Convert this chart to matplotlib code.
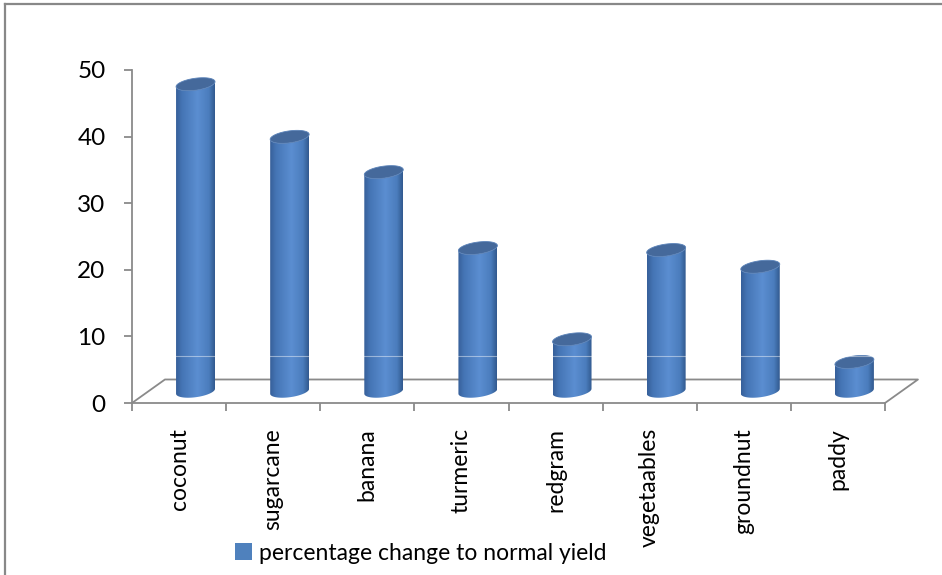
import numpy as np
import matplotlib
matplotlib.use('Agg')
import matplotlib.pyplot as plt
from matplotlib.patches import Polygon, Patch
from matplotlib.colors import LinearSegmentedColormap
from matplotlib.lines import Line2D

crops = ['coconut', 'sugarcane', 'banana', 'turmeric', 'redgram',
         'vegetaables', 'groundnut', 'paddy']
change = [46.1, 38.2, 32.9, 21.5, 7.8, 21.2, 18.7, 4.4]
yticks = [0, 10, 20, 30, 40, 50]
legend_label = 'percentage change to normal yield'

plt.rcParams['font.family'] = ['Lato', 'DejaVu Sans']

fig = plt.figure(figsize=(9.42, 5.75), dpi=100)
ax = fig.add_axes([132/942, 172/575, 753/942, 333/575])

grey = '#8a8a8a'
# 3d depth of the floor (data units)
dx, dy = 0.35, 3.53
bw = 0.414        # bar width
eh = 1.8          # ellipse height
tilt = 1.8        # slope of the ellipses

cyl = LinearSegmentedColormap.from_list('cyl', [
    (0.0, '#37609a'), (0.15, '#4575b5'), (0.55, '#5b8ed1'),
    (0.85, '#4b7dbd'), (1.0, '#325a90')])
grad = np.linspace(0, 1, 64).reshape(1, -1)

def ell(xc, yc, t):
    x = xc + bw/2*np.cos(t)
    y = yc + eh/2*np.sin(t) + tilt*(x - xc)
    return x, y

for i, v in enumerate(change):
    xc = i + 0.5 + dx/2
    yb = dy/2
    yt = yb + v
    t1 = np.linspace(np.pi, 2*np.pi, 40)
    bx, by = ell(xc, yb, t1)
    tx, ty = ell(xc, yt, t1[::-1])
    body = Polygon(np.column_stack([np.r_[bx, tx], np.r_[by, ty]]),
                   closed=True, facecolor='none', edgecolor='none', zorder=3)
    ax.add_patch(body)
    im = ax.imshow(grad, cmap=cyl, aspect='auto', zorder=3,
                   extent=[xc-bw/2, xc+bw/2, yb-eh-1, yt+eh+1])
    im.set_clip_path(body)
    t2 = np.linspace(0, 2*np.pi, 80)
    ex, ey = ell(xc, yt, t2)
    ax.add_patch(Polygon(np.column_stack([ex, ey]), closed=True,
                         facecolor='#45699b', edgecolor='#5a82b8', lw=0.6, zorder=4))
    # faint line across the bars
    ax.plot([xc-bw/2, xc+bw/2], [7.06, 7.06], color='white', alpha=0.45, lw=0.8, zorder=4)

# floor
n = len(crops)
ax.plot([0, dx, n+dx, n], [0, dy, dy, 0], color=grey, lw=1.3, zorder=2, clip_on=False)

ax.set_xlim(0, n)
ax.set_ylim(0, 50)
ax.set_yticks(yticks)
ax.set_xticks(np.arange(n+1))
ax.set_xticklabels([])
ax.set_xticks(np.arange(n) + 0.5, minor=True)
ax.set_xticklabels(crops, minor=True, rotation=90, va='top', ha='center')
ax.tick_params(axis='x', which='minor', length=0, pad=18, labelsize=16.5, colors='black')
ax.tick_params(axis='x', which='major', length=6, color=grey, width=1.3)
ax.tick_params(axis='y', length=6, color=grey, width=1.3, pad=13, labelsize=17.5)
for s in ['top', 'right']:
    ax.spines[s].set_visible(False)
for s in ['left', 'bottom']:
    ax.spines[s].set_color(grey)
    ax.spines[s].set_linewidth(1.3)
ax.patch.set_visible(False)

fig.legend(handles=[Patch(facecolor='#4f81bd', edgecolor='none')], labels=[legend_label],
           loc='center', bbox_to_anchor=(421/942, 22/575), frameon=False,
           fontsize=16.5, handlelength=0.75, handleheight=0.75, handletextpad=0.3)

# chart border
fig.add_artist(Line2D([5/942, 5/942], [0, 1-4/575], color='#888888', lw=1.6))
fig.add_artist(Line2D([5/942, 1], [1-4/575, 1-4/575], color='#888888', lw=1.6))

fig.savefig('out.png', dpi=100)
